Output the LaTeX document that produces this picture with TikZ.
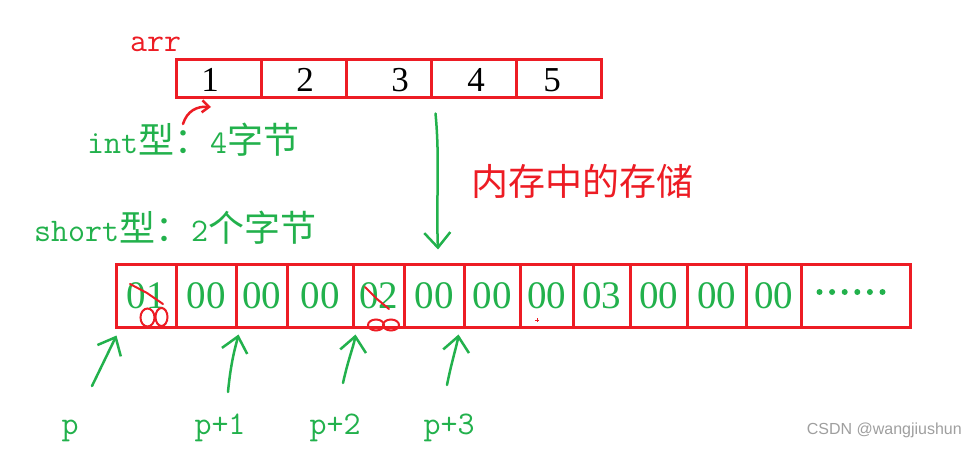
\documentclass[tikz,border=0pt]{standalone}
\usepackage{fontspec}
\setmainfont{Liberation Serif}
\newfontfamily\cjk{Noto Sans CJK SC}
\newfontfamily\wsans{Liberation Sans}
\usetikzlibrary{arrows.meta,calc}
\definecolor{pred}{HTML}{ED1C24}
\definecolor{pgreen}{HTML}{22B14C}
\newcommand\lm[1]{{\ttfamily\fontsize{33}{34}\selectfont #1}}
\newcommand\ck[1]{{\cjk\fontsize{36}{38}\selectfont #1}}
\begin{document}
\begin{tikzpicture}[x=1pt,y=-1pt,
  cellbox/.style={draw=pred, line width=3pt, inner sep=0pt},
  topdigit/.style={font=\fontsize{35}{35}\selectfont, text=black, inner sep=0pt},
  memdigit/.style={text=pgreen, font=\fontsize{39}{39}\selectfont},
  garrow/.style={draw=pgreen, line width=2.5pt, line cap=round, line join=round,
    -{Straight Barb[length=15pt,width=26pt]}},
  rarrow/.style={draw=pred, line width=2.5pt, line cap=round, line join=round,
    -{Straight Barb[length=7pt,width=12pt]}},
  rmark/.style={draw=pred, line width=2pt, line cap=round}]
\useasboundingbox (0,0) rectangle (975,449);
\fill[white] (0,0) rectangle (975,449);

% top array
\foreach \c [count=\i] in {218.5,303.5,388.5,473.5,558.5}
  \node[cellbox, minimum width=85pt, minimum height=38pt] (a\i) at (\c,79) {};
\node[topdigit] (d1) at (210,80) {1};
\node[topdigit] (d2) at (305,80) {2};
\node[topdigit] (d3) at (400,80) {3};
\node[topdigit] (d4) at (476,80) {4};
\node[topdigit] (d5) at (552,80) {5};
\node[anchor=base west, text=pred, inner sep=0pt] (arrlbl) at (130,52) {\lm{arr}};

% red hook arrow under 1
\coordinate (hs) at (183,124);
\coordinate (he) at (211,107);
\draw[rarrow] (hs) .. controls (187,111) and (197,106) .. (he);

% labels
\node[anchor=west, text=pgreen, inner sep=0pt] (intlbl) at (87,140) {\lm{int}\ck{型：}\lm{4}\ck{字节}};
\node[anchor=west, text=pgreen, inner sep=0pt] (shortlbl) at (34,228) {\lm{short}\ck{型：}\lm{2}\ck{个字节}};
\node[anchor=west, text=pred, inner sep=0pt] (memlbl) at (471,181) {{\cjk\fontsize{37}{38}\selectfont 内存中的存储}};

% memory row
\foreach \l/\r/\t [count=\i] in {116/176/01,176/236/00,236/287/00,287/353/00,353/404/02,404/464/00,464/520/00,520/573/00,573/630/03,630/687/00,687/746/00,746/801/00}
  \node[cellbox, memdigit, minimum width={\r-\l}, minimum height=62pt] (b\i) at ({(\l+\r)/2},296) {\t};
\node[cellbox, minimum width=109pt, minimum height=62pt] (b13) at (855.5,296) {};
\foreach \k in {0,...,5}
  \fill[pgreen] ($(b13.center)+(-36+\k*12.6,-4)$) circle (3pt);

% big green arrow
\coordinate (gs) at ($(a4.south west)+(6,14)$);
\coordinate (ge) at ($(b6.north)+(4,-14)$);
\draw[garrow] (gs) .. controls (440,160) and (436,200) .. (ge);

% red corrections
\draw[rmark] (130,284) -- (147,293) -- (163,304);
\draw[rmark] (147.5,317.5) ellipse [x radius=7, y radius=9];
\draw[rmark] (161.5,317) ellipse [x radius=6, y radius=9];
\draw[rmark] (365,287) -- (377,299) -- (389,309);
\draw[rmark] (376,325) ellipse [x radius=8, y radius=5.5];
\draw[rmark] (391,325) ellipse [x radius=8, y radius=5.5];
\draw[draw=pred, line width=1pt] (535,320) -- (539,320) (537,318) -- (537,322);

% pointer labels
\node[anchor=base, text=pgreen, inner sep=0pt] (lp) at (70,434) {\lm{p}};
\node[anchor=base, text=pgreen, inner sep=0pt] (lp1) at (220,434) {\lm{p+1}};
\node[anchor=base, text=pgreen, inner sep=0pt] (lp2) at (335,434) {\lm{p+2}};
\node[anchor=base, text=pgreen, inner sep=0pt] (lp3) at (449,434) {\lm{p+3}};

% pointer arrows
\draw[garrow] ($(lp.base)+(22,-48)$) -- ($(b1.south west)+(2,7)$);
\draw[garrow] ($(lp1.base)+(8,-42)$) .. controls (231,360) and (236,345) .. ($(b3.south west)+(4,6)$);
\draw[garrow] ($(lp2.base)+(8,-51)$) .. controls (348,360) and (354,345) .. ($(b5.south west)+(4,6)$);
\draw[garrow] ($(lp3.base)+(-2,-49)$) .. controls (452,360) and (457,345) .. ($(b7.south west)+(-4,6)$);

% watermark
\node[anchor=east, text=gray!75, inner sep=0pt, font=\wsans\fontsize{16}{16}\selectfont] (wm) at (962,430) {CSDN @wangjiushun};
\end{tikzpicture}
\end{document}
